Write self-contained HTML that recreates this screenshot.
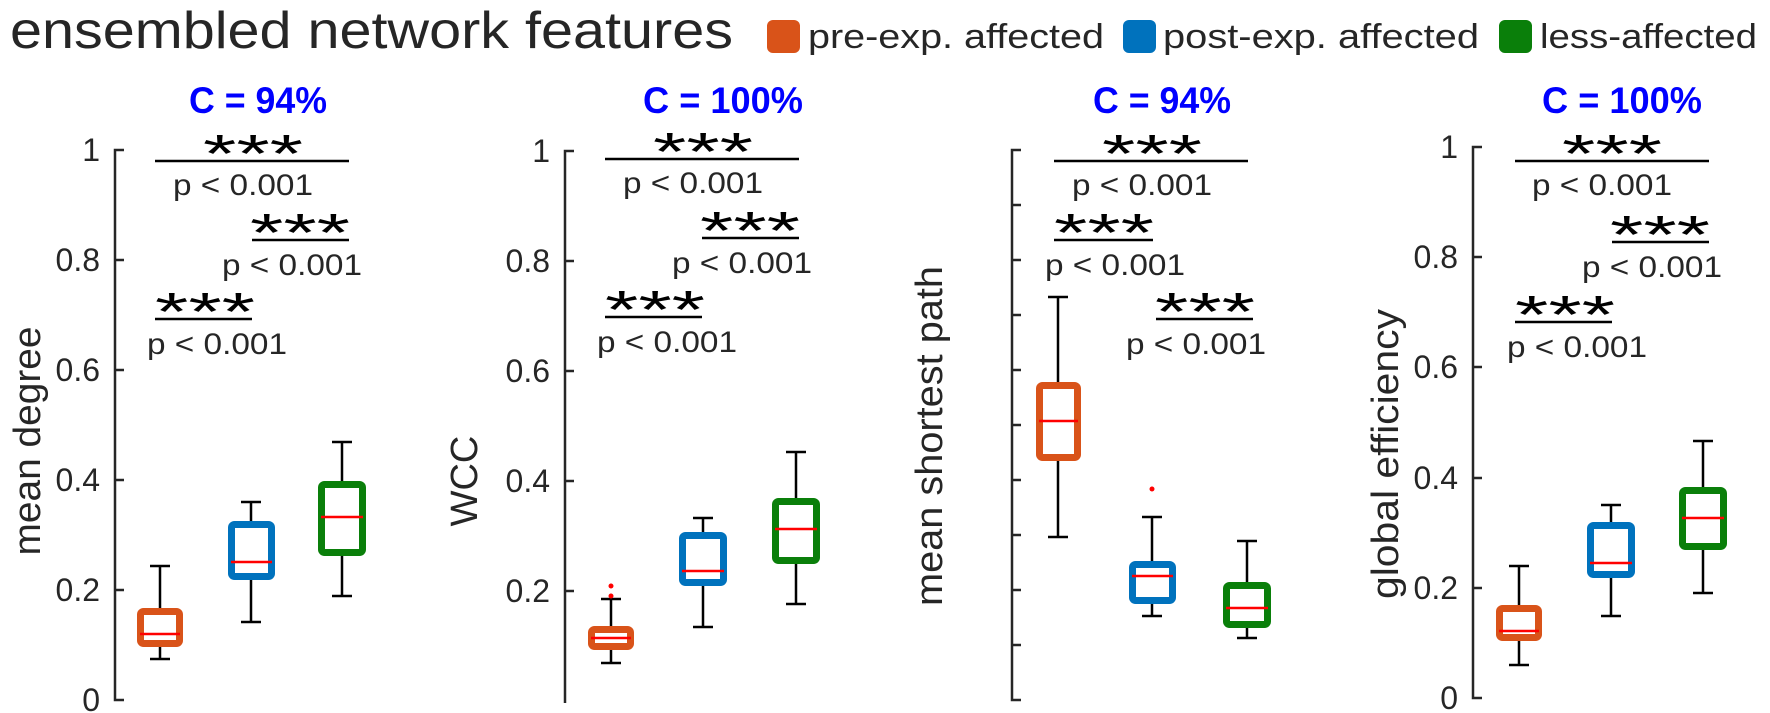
<!DOCTYPE html>
<html><head><meta charset="utf-8"><style>
html,body{margin:0;padding:0;background:#fff;}
svg{display:block;font-family:"Liberation Sans",sans-serif;}
.t{font-size:32px;fill:#262626;text-anchor:end;}
.p{font-size:30px;fill:#262626;text-anchor:middle;}
.s{font-size:54px;fill:#000;text-anchor:middle;}
.c{font-size:37px;fill:#0000ff;font-weight:bold;text-anchor:middle;}
.yl{font-size:38px;fill:#262626;text-anchor:middle;}
.ax{stroke:#262626;stroke-width:2.5;fill:none;}
.w{stroke:#000;stroke-width:2.5;fill:none;}
.b{fill:#fff;stroke-width:7;}
.o{stroke:#D95319;} .bl{stroke:#0072BD;} .g{stroke:#0A7F0A;}
.m{stroke:#ff0000;stroke-width:2.5;}
.bar{stroke:#000;stroke-width:2.5;}
</style></head><body>
<svg width="1770" height="713" viewBox="0 0 1770 713">
<text x="10" y="48" font-size="52" fill="#262626" textLength="723" lengthAdjust="spacingAndGlyphs">ensembled network features</text>
<rect x="767" y="20" width="33" height="33" rx="6" fill="#D95319"/>
<text x="808" y="48" font-size="34" fill="#262626" textLength="296" lengthAdjust="spacingAndGlyphs">pre-exp. affected</text>
<rect x="1123" y="20" width="33" height="33" rx="6" fill="#0072BD"/>
<text x="1163" y="48" font-size="34" fill="#262626" textLength="316" lengthAdjust="spacingAndGlyphs">post-exp. affected</text>
<rect x="1499" y="20" width="33" height="33" rx="6" fill="#0A7F0A"/>
<text x="1540" y="48" font-size="34" fill="#262626" textLength="217" lengthAdjust="spacingAndGlyphs">less-affected</text>

<!-- Panel 1 -->
<text class="c" x="258" y="113" textLength="138" lengthAdjust="spacingAndGlyphs">C = 94%</text>
<path class="ax" d="M124 150H115V700H124 M115 260H124 M115 370H124 M115 480H124 M115 590H124"/>
<text class="t" x="100" y="161">1</text><text class="t" x="100" y="271">0.8</text><text class="t" x="100" y="381">0.6</text><text class="t" x="100" y="491">0.4</text><text class="t" x="100" y="601">0.2</text><text class="t" x="100" y="711">0</text>
<text class="yl" transform="translate(40,441) rotate(-90)" textLength="229" lengthAdjust="spacingAndGlyphs">mean degree</text>
<path class="w" d="M160 566V611M160 644V659M150 566H170M150 659H170"/>
<rect class="b o" x="140.5" y="611.5" width="39" height="32" rx="3"/><path class="m" d="M140 634H180"/>
<path class="w" d="M251 502V524M251 577V622M241 502H261M241 622H261"/>
<rect class="b bl" x="231.5" y="524.5" width="40" height="52" rx="3"/><path class="m" d="M231 562H272"/>
<path class="w" d="M342 442V484M342 553V596M332 442H352M332 596H352"/>
<rect class="b g" x="321.5" y="484.5" width="41" height="68" rx="3"/><path class="m" d="M321 517H363"/>
<path class="bar" d="M155 161H349M252 240H349M155 319H252"/>
<text class="s" x="253" y="172" textLength="100" lengthAdjust="spacingAndGlyphs">***</text><text class="p" x="243" y="195" textLength="140" lengthAdjust="spacingAndGlyphs">p &lt; 0.001</text>
<text class="s" x="300" y="251" textLength="100" lengthAdjust="spacingAndGlyphs">***</text><text class="p" x="292" y="275" textLength="140" lengthAdjust="spacingAndGlyphs">p &lt; 0.001</text>
<text class="s" x="205" y="330" textLength="100" lengthAdjust="spacingAndGlyphs">***</text><text class="p" x="217" y="354" textLength="140" lengthAdjust="spacingAndGlyphs">p &lt; 0.001</text>

<!-- Panel 2 -->
<text class="c" x="723" y="113" textLength="160" lengthAdjust="spacingAndGlyphs">C = 100%</text>
<path class="ax" d="M574 151H565V703 M565 261H574 M565 371H574 M565 481H574 M565 591H574"/>
<text class="t" x="550" y="162">1</text><text class="t" x="550" y="272">0.8</text><text class="t" x="550" y="382">0.6</text><text class="t" x="550" y="492">0.4</text><text class="t" x="550" y="602">0.2</text>
<text class="yl" transform="translate(477,481) rotate(-90)">WCC</text>
<path class="w" d="M611 599V629M611 647V663M601 599H621M601 663H621"/>
<circle cx="611" cy="586" r="2.5" fill="red"/><circle cx="611" cy="596" r="2.5" fill="red"/>
<rect class="b o" x="591.5" y="629.5" width="39" height="17" rx="3"/><path class="m" d="M591 638H631"/>
<path class="w" d="M703 518V535M703 583V627M693 518H713M693 627H713"/>
<rect class="b bl" x="682.5" y="535.5" width="41" height="47" rx="3"/><path class="m" d="M682 571H724"/>
<path class="w" d="M796 452V501M796 561V604M786 452H806M786 604H806"/>
<rect class="b g" x="775.5" y="501.5" width="41" height="59" rx="3"/><path class="m" d="M775 529H817"/>
<path class="bar" d="M605 159H799M702 238H799M605 317H702"/>
<text class="s" x="703" y="170" textLength="100" lengthAdjust="spacingAndGlyphs">***</text><text class="p" x="693" y="193" textLength="140" lengthAdjust="spacingAndGlyphs">p &lt; 0.001</text>
<text class="s" x="750" y="249" textLength="100" lengthAdjust="spacingAndGlyphs">***</text><text class="p" x="742" y="273" textLength="140" lengthAdjust="spacingAndGlyphs">p &lt; 0.001</text>
<text class="s" x="655" y="328" textLength="100" lengthAdjust="spacingAndGlyphs">***</text><text class="p" x="667" y="352" textLength="140" lengthAdjust="spacingAndGlyphs">p &lt; 0.001</text>

<!-- Panel 3 -->
<text class="c" x="1162" y="113" textLength="138" lengthAdjust="spacingAndGlyphs">C = 94%</text>
<path class="ax" d="M1021 150H1012V700H1021 M1012 205H1021 M1012 260H1021 M1012 315H1021 M1012 370H1021 M1012 425H1021 M1012 480H1021 M1012 535H1021 M1012 590H1021 M1012 645H1021"/>
<text class="yl" transform="translate(942,436) rotate(-90)" textLength="340" lengthAdjust="spacingAndGlyphs">mean shortest path</text>
<path class="w" d="M1058 297V386M1058 457V537M1048 297H1068M1048 537H1068"/>
<rect class="b o" x="1039.5" y="385.5" width="38" height="72" rx="3"/><path class="m" d="M1039 421H1078"/>
<circle cx="1152" cy="489" r="2.5" fill="red"/>
<path class="w" d="M1152 517V565M1152 600V616M1142 517H1162M1142 616H1162"/>
<rect class="b bl" x="1132.5" y="564.5" width="40" height="36" rx="3"/><path class="m" d="M1132 576H1173"/>
<path class="w" d="M1247 541V586M1247 624V638M1237 541H1257M1237 638H1257"/>
<rect class="b g" x="1226.5" y="585.5" width="41" height="39" rx="3"/><path class="m" d="M1226 608H1268"/>
<path class="bar" d="M1054 161H1248M1054 240H1153M1156 319H1253"/>
<text class="s" x="1152" y="172" textLength="100" lengthAdjust="spacingAndGlyphs">***</text><text class="p" x="1142" y="195" textLength="140" lengthAdjust="spacingAndGlyphs">p &lt; 0.001</text>
<text class="s" x="1104" y="251" textLength="100" lengthAdjust="spacingAndGlyphs">***</text><text class="p" x="1115" y="275" textLength="140" lengthAdjust="spacingAndGlyphs">p &lt; 0.001</text>
<text class="s" x="1205" y="330" textLength="100" lengthAdjust="spacingAndGlyphs">***</text><text class="p" x="1196" y="354" textLength="140" lengthAdjust="spacingAndGlyphs">p &lt; 0.001</text>

<!-- Panel 4 -->
<text class="c" x="1622" y="113" textLength="160" lengthAdjust="spacingAndGlyphs">C = 100%</text>
<path class="ax" d="M1482 147H1473V698H1482 M1473 257H1482 M1473 367H1482 M1473 478H1482 M1473 588H1482"/>
<text class="t" x="1458" y="158">1</text><text class="t" x="1458" y="268">0.8</text><text class="t" x="1458" y="378">0.6</text><text class="t" x="1458" y="489">0.4</text><text class="t" x="1458" y="599">0.2</text><text class="t" x="1458" y="709">0</text>
<text class="yl" transform="translate(1398,454) rotate(-90)" textLength="290" lengthAdjust="spacingAndGlyphs">global efficiency</text>
<path class="w" d="M1519 566V608M1519 638V665M1509 566H1529M1509 665H1529"/>
<rect class="b o" x="1499.5" y="608.5" width="39" height="29" rx="3"/><path class="m" d="M1499 631H1539"/>
<path class="w" d="M1611 505V525M1611 575V616M1601 505H1621M1601 616H1621"/>
<rect class="b bl" x="1590.5" y="525.5" width="41" height="49" rx="3"/><path class="m" d="M1590 563H1632"/>
<path class="w" d="M1703 441V490M1703 547V593M1693 441H1713M1693 593H1713"/>
<rect class="b g" x="1682.5" y="490.5" width="41" height="56" rx="3"/><path class="m" d="M1682 518H1724"/>
<path class="bar" d="M1515 161H1709M1612 242H1709M1515 322H1612"/>
<text class="s" x="1612" y="172" textLength="100" lengthAdjust="spacingAndGlyphs">***</text><text class="p" x="1602" y="195" textLength="140" lengthAdjust="spacingAndGlyphs">p &lt; 0.001</text>
<text class="s" x="1660" y="253" textLength="100" lengthAdjust="spacingAndGlyphs">***</text><text class="p" x="1652" y="277" textLength="140" lengthAdjust="spacingAndGlyphs">p &lt; 0.001</text>
<text class="s" x="1565" y="333" textLength="100" lengthAdjust="spacingAndGlyphs">***</text><text class="p" x="1577" y="357" textLength="140" lengthAdjust="spacingAndGlyphs">p &lt; 0.001</text>
</svg>
</body></html>
